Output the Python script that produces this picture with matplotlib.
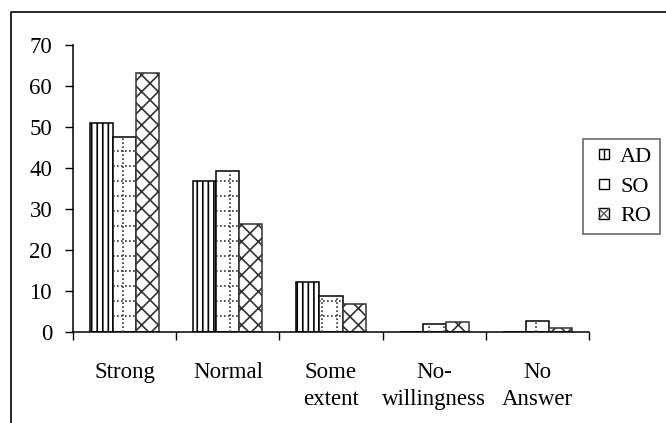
import numpy as np
import matplotlib
matplotlib.use('Agg')
import matplotlib.pyplot as plt
import matplotlib.patches as patches
from matplotlib.lines import Line2D
from matplotlib.legend_handler import HandlerBase

kategorie = ['Strong', 'Normal', 'Some\nextent', 'No-\nwillingness', 'No\nAnswer']
AD = [51.0, 36.7, 12.1, 0.0, 0.0]
SO = [47.5, 39.2, 8.6, 1.8, 2.7]
RO = [63.1, 26.4, 6.8, 2.4, 1.0]
serie = ['AD', 'SO', 'RO']
y_ticks = [0, 10, 20, 30, 40, 50, 60, 70]

plt.rcParams['font.family'] = ['Liberation Serif', 'DejaVu Serif']
plt.rcParams['hatch.linewidth'] = 1.2
plt.rcParams['hatch.color'] = 'black'


class Kwadrat(HandlerBase):
    # maly kwadrat z wzorem w legendzie
    def __init__(self, wzor):
        super().__init__()
        self.wzor = wzor

    def create_artists(self, legend, orig_handle, xdescent, ydescent, width, height, fontsize, trans):
        bok = 7.4
        x0 = width - bok - xdescent
        y0 = (height - bok) / 2 - ydescent
        wynik = [patches.Rectangle((x0, y0), bok, bok, facecolor='white', edgecolor='black',
                                   linewidth=1.0, transform=trans)]
        if self.wzor == '|':
            wynik.append(Line2D([x0 + bok / 2] * 2, [y0, y0 + bok], color='black', linewidth=1.0, transform=trans))
        if self.wzor == 'x':
            wynik.append(Line2D([x0, x0 + bok], [y0, y0 + bok], color='#555555', linewidth=1.0, transform=trans))
            wynik.append(Line2D([x0, x0 + bok], [y0 + bok, y0], color='#555555', linewidth=1.0, transform=trans))
        return wynik


W, H = 666, 423
fig = plt.figure(figsize=(W / 100, H / 100), dpi=100)
ax = fig.add_axes([73 / W, 1 - 331.7 / H, (589 - 73) / W, (331.7 - 45) / H])

x = np.arange(len(kategorie))
w = 0.223

b1 = ax.bar(x - w, AD, w, color='white', edgecolor='black', linewidth=1.1, hatch='|||', zorder=2)
b2 = ax.bar(x, SO, w, color='white', edgecolor='black', linewidth=1.1, zorder=2)
b3 = ax.bar(x + w, RO, w, color='white', edgecolor='#333333', linewidth=1.1, hatch='xx', zorder=2)

# kropkowana siatka w slupkach SO
dx = 0.148
x0 = -0.0117
dy = 3.67
y0 = 0.16
kropki = dict(color='#333333', linewidth=1.2, linestyle=(0, (1, 1.4)), zorder=3)
for xi, h in zip(x, SO):
    lewy = xi - w / 2
    prawy = xi + w / 2
    k = np.ceil((lewy - x0) / dx)
    while x0 + k * dx < prawy - 0.01:
        xx = x0 + k * dx
        if xx > lewy + 0.01:
            ax.plot([xx, xx], [0, h], **kropki)
        k += 1
    yy = y0 + dy
    while yy < h - 0.3:
        ax.plot([lewy, prawy], [yy, yy], **kropki)
        yy += dy

ax.set_xlim(-0.5, len(kategorie) - 0.5)
ax.set_ylim(0, 70)
ax.set_yticks(y_ticks)
ax.set_xticks(np.arange(len(kategorie) + 1) - 0.5)
ax.set_xticklabels([])
ax.set_xticks(x, minor=True)
ax.set_xticklabels(kategorie, minor=True, fontsize=16.5, linespacing=1.42)
ax.tick_params(axis='x', which='minor', length=0, pad=21.5)
ax.tick_params(axis='x', which='major', length=6, width=1, direction='out')
ax.tick_params(axis='y', length=6, width=1, direction='out', pad=9, labelsize=16.5)

for s in ['top', 'right']:
    ax.spines[s].set_visible(False)
for s in ['left', 'bottom']:
    ax.spines[s].set_linewidth(1.1)

# legenda
leg = fig.legend([b1, b2, b3], serie, loc='upper left', bbox_to_anchor=(583 / W, 1 - 139 / H),
                 handler_map={b1: Kwadrat('|'), b2: Kwadrat(''), b3: Kwadrat('x')},
                 fontsize=16, frameon=True, fancybox=False, borderaxespad=0,
                 handlelength=0.82, handleheight=0.6, handletextpad=0.5,
                 labelspacing=0.45, borderpad=0.35)
leg.get_frame().set_edgecolor('#444444')
leg.get_frame().set_linewidth(1.2)

# ramka wykresu
fig.add_artist(Line2D([11 / W, 11 / W, 1], [0, 1 - 12 / H, 1 - 12 / H],
                      transform=fig.transFigure, color='black', linewidth=1.2))

plt.savefig('out.png', dpi=100)
